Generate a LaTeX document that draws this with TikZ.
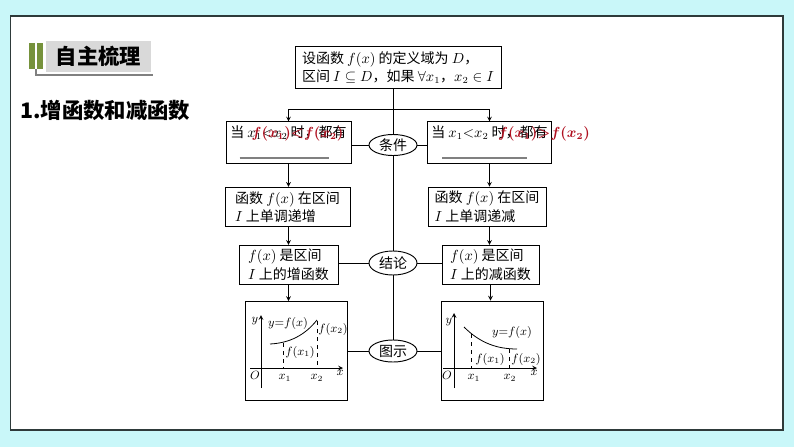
\documentclass[tikz,border=0pt]{standalone}
\usepackage{fontspec}
\setmainfont{Liberation Serif}
\newfontfamily\cjk{Noto Sans CJK SC}
\usetikzlibrary{shapes.geometric}
\usetikzlibrary{arrows,shapes,calc}
\definecolor{bgcyan}{HTML}{C9F7F9}
\definecolor{panelline}{HTML}{2E3A3A}
\definecolor{barolive}{HTML}{76923C}
\definecolor{titlegray}{HTML}{D9D9D9}
\definecolor{redtxt}{HTML}{B01020}

\begin{document}
\begin{tikzpicture}[x=0.75pt, y=-0.75pt,
            box/.style = {draw, line width=0.7pt, align=left, inner sep=3pt, font=\cjk\fontsize{10.5}{14}\selectfont},
            oval/.style = {draw, ellipse, fill=white, line width=0.7pt, inner sep=0pt, minimum width=36pt, font=\cjk\fontsize{10.5}{12}\selectfont},
            lbl/.style = {inner sep=0pt, font=\fontsize{9}{10}\selectfont},
            ans/.style = {text=redtxt, inner sep=0pt, font=\boldmath\fontsize{10.5}{12}\selectfont},
            line/.style = {line width=0.6pt},
            >=stealth
            ]
            \useasboundingbox (0,0) rectangle (794,447);
            \fill[bgcyan] (0,0) rectangle (794,447);
            \draw[panelline, line width=0.8pt, fill=white] (10.5,16) rectangle (783,430);

            \fill[barolive] (29,43) rectangle (35,69);
            \fill[barolive] (37,43) rectangle (43,69);
            \node[fill=titlegray, minimum width=78.75pt, minimum height=23.25pt, inner sep=0pt,
                font=\cjk\bfseries\fontsize{16}{18}\selectfont] (title) at (98.5,56.5) {自主梳理};
            \draw[gray, line width=0.8pt] (36,69) -- (36,75) -- (153,75);
            \node[anchor=west, inner sep=0pt, font=\cjk\bfseries\fontsize{16}{18}\selectfont] (sec) at (20,110) {1.增函数和减函数};

            \node[box, minimum width=154.5pt, minimum height=32pt] (def) at (398,67.5)
                {设函数 $f(x)$ 的定义域为 $D$，\\区间 $I\subseteq D$，如果 $\forall x_1$，$x_2\in I$};

            \node[box, minimum width=93.75pt, minimum height=30.75pt] (incCond) at (288.5,142.5)
                {当 $x_1{<}x_2$ 时，都有\\[2pt]\hspace*{7pt}\textcolor{gray}{\rule{67pt}{1.2pt}}};
            \node[box, minimum width=92.25pt, minimum height=30.75pt] (decCond) at (489.5,142.5)
                {当 $x_1{<}x_2$ 时，都有\\[2pt]\hspace*{8pt}\textcolor{gray}{\rule{64pt}{1.2pt}}};
            \node[oval, minimum height=15.75pt] (cond) at (393,145) {条件};

            \node[box, minimum width=93.75pt, minimum height=29.25pt] (incMono) at (287.5,207)
                {函数 $f(x)$ 在区间\\$I$ 上单调递增};
            \node[box, minimum width=88.5pt, minimum height=29.25pt] (decMono) at (487,207)
                {函数 $f(x)$ 在区间\\$I$ 上单调递减};

            \node[box, minimum width=74.25pt, minimum height=28.5pt] (incFun) at (288.5,265)
                {$f(x)$ 是区间\\$I$ 上的增函数};
            \node[box, minimum width=72.75pt, minimum height=28.5pt] (decFun) at (490.5,265)
                {$f(x)$ 是区间\\$I$ 上的减函数};
            \node[oval, minimum height=18pt] (concl) at (393,263) {结论};

            \node[box, minimum width=76.5pt, minimum height=74.25pt] (incPlot) at (296,351) {};
            \node[box, minimum width=76.5pt, minimum height=74.25pt] (decPlot) at (492,350.5) {};
            \node[oval, minimum height=16.5pt] (figs) at (393,351) {图示};

            \node[ans] (incAns) at (297.5,134) {$f(x_1){<}f(x_2)$};
            \node[ans] (decAns) at (544,134) {$f(x_1){>}f(x_2)$};

            \coordinate (split) at ($(cond.north |- def.south)+(0,20)$);
            \draw[line] (cond.north |- def.south) -- (cond.north);
            \draw[line,->] (split) -| (incCond.north);
            \draw[line,->] (split) -| (decCond.north);
            \draw[line] (cond.south) -- (concl.north);
            \draw[line] (concl.south) -- (figs.north);
            \draw[line] (cond.west) -- (cond.west -| incCond.east);
            \draw[line] (cond.east) -- (cond.east -| decCond.west);
            \draw[line] (concl.west) -- (concl.west -| incFun.east);
            \draw[line] (concl.east) -- (concl.east -| decFun.west);
            \draw[line] (figs.west) -- (figs.west -| incPlot.east);
            \draw[line] (figs.east) -- (figs.east -| decPlot.west);
            \draw[line,->] (incCond.south) -- (incCond.south |- incMono.north);
            \draw[line,->] (incMono.south -| incCond.south) -- (incCond.south |- incFun.north);
            \draw[line,->] (incFun.south) -- (incFun.south |- incPlot.north);
            \draw[line,->] (decCond.south) -- (decCond.south |- decMono.north);
            \draw[line,->] (decMono.south -| decCond.south) -- (decCond.south |- decFun.north);
            \draw[line,->] (decFun.south) -- (decFun.south |- decPlot.north);

            \draw[line,->] (261,388) -- (261,315);
            \draw[line,->] (250,368) -- (343,368);
            \draw[line] (270,344) .. controls (290,343) and (305,335) .. (317,320);
            \draw[line, dashed] (283,343) -- (283,368);
            \draw[line, dashed] (317,321) -- (317,368);
            \node[lbl] (incY) at (255,321) {$y$};
            \node[lbl] (incO) at (255,375) {$O$};
            \node[lbl] (incX) at (340,373) {$x$};
            \node[lbl] (incX1) at (285,378) {$x_1$};
            \node[lbl] (incX2) at (317,378) {$x_2$};
            \node[lbl] (incF) at (288,323) {$y{=}f(x)$};
            \node[lbl] (incF1) at (300,352) {$f(x_1)$};
            \node[lbl] (incF2) at (333,329) {$f(x_2)$};

            \draw[line,->] (454,388) -- (454,313);
            \draw[line,->] (443,368) -- (537,368);
            \draw[line] (464,327) .. controls (480,343) and (497,349) .. (517,349);
            \draw[line, dashed] (471,334) -- (471,368);
            \draw[line, dashed] (509,349) -- (509,368);
            \node[lbl] (decY) at (449,322) {$y$};
            \node[lbl] (decO) at (447,375) {$O$};
            \node[lbl] (decX) at (534,373) {$x$};
            \node[lbl] (decX1) at (474,378) {$x_1$};
            \node[lbl] (decX2) at (510,378) {$x_2$};
            \node[lbl] (decF) at (512,332) {$y{=}f(x)$};
            \node[lbl] (decF1) at (490,359) {$f(x_1)$};
            \node[lbl] (decF2) at (526,359) {$f(x_2)$};
        \end{tikzpicture}
\end{document}
